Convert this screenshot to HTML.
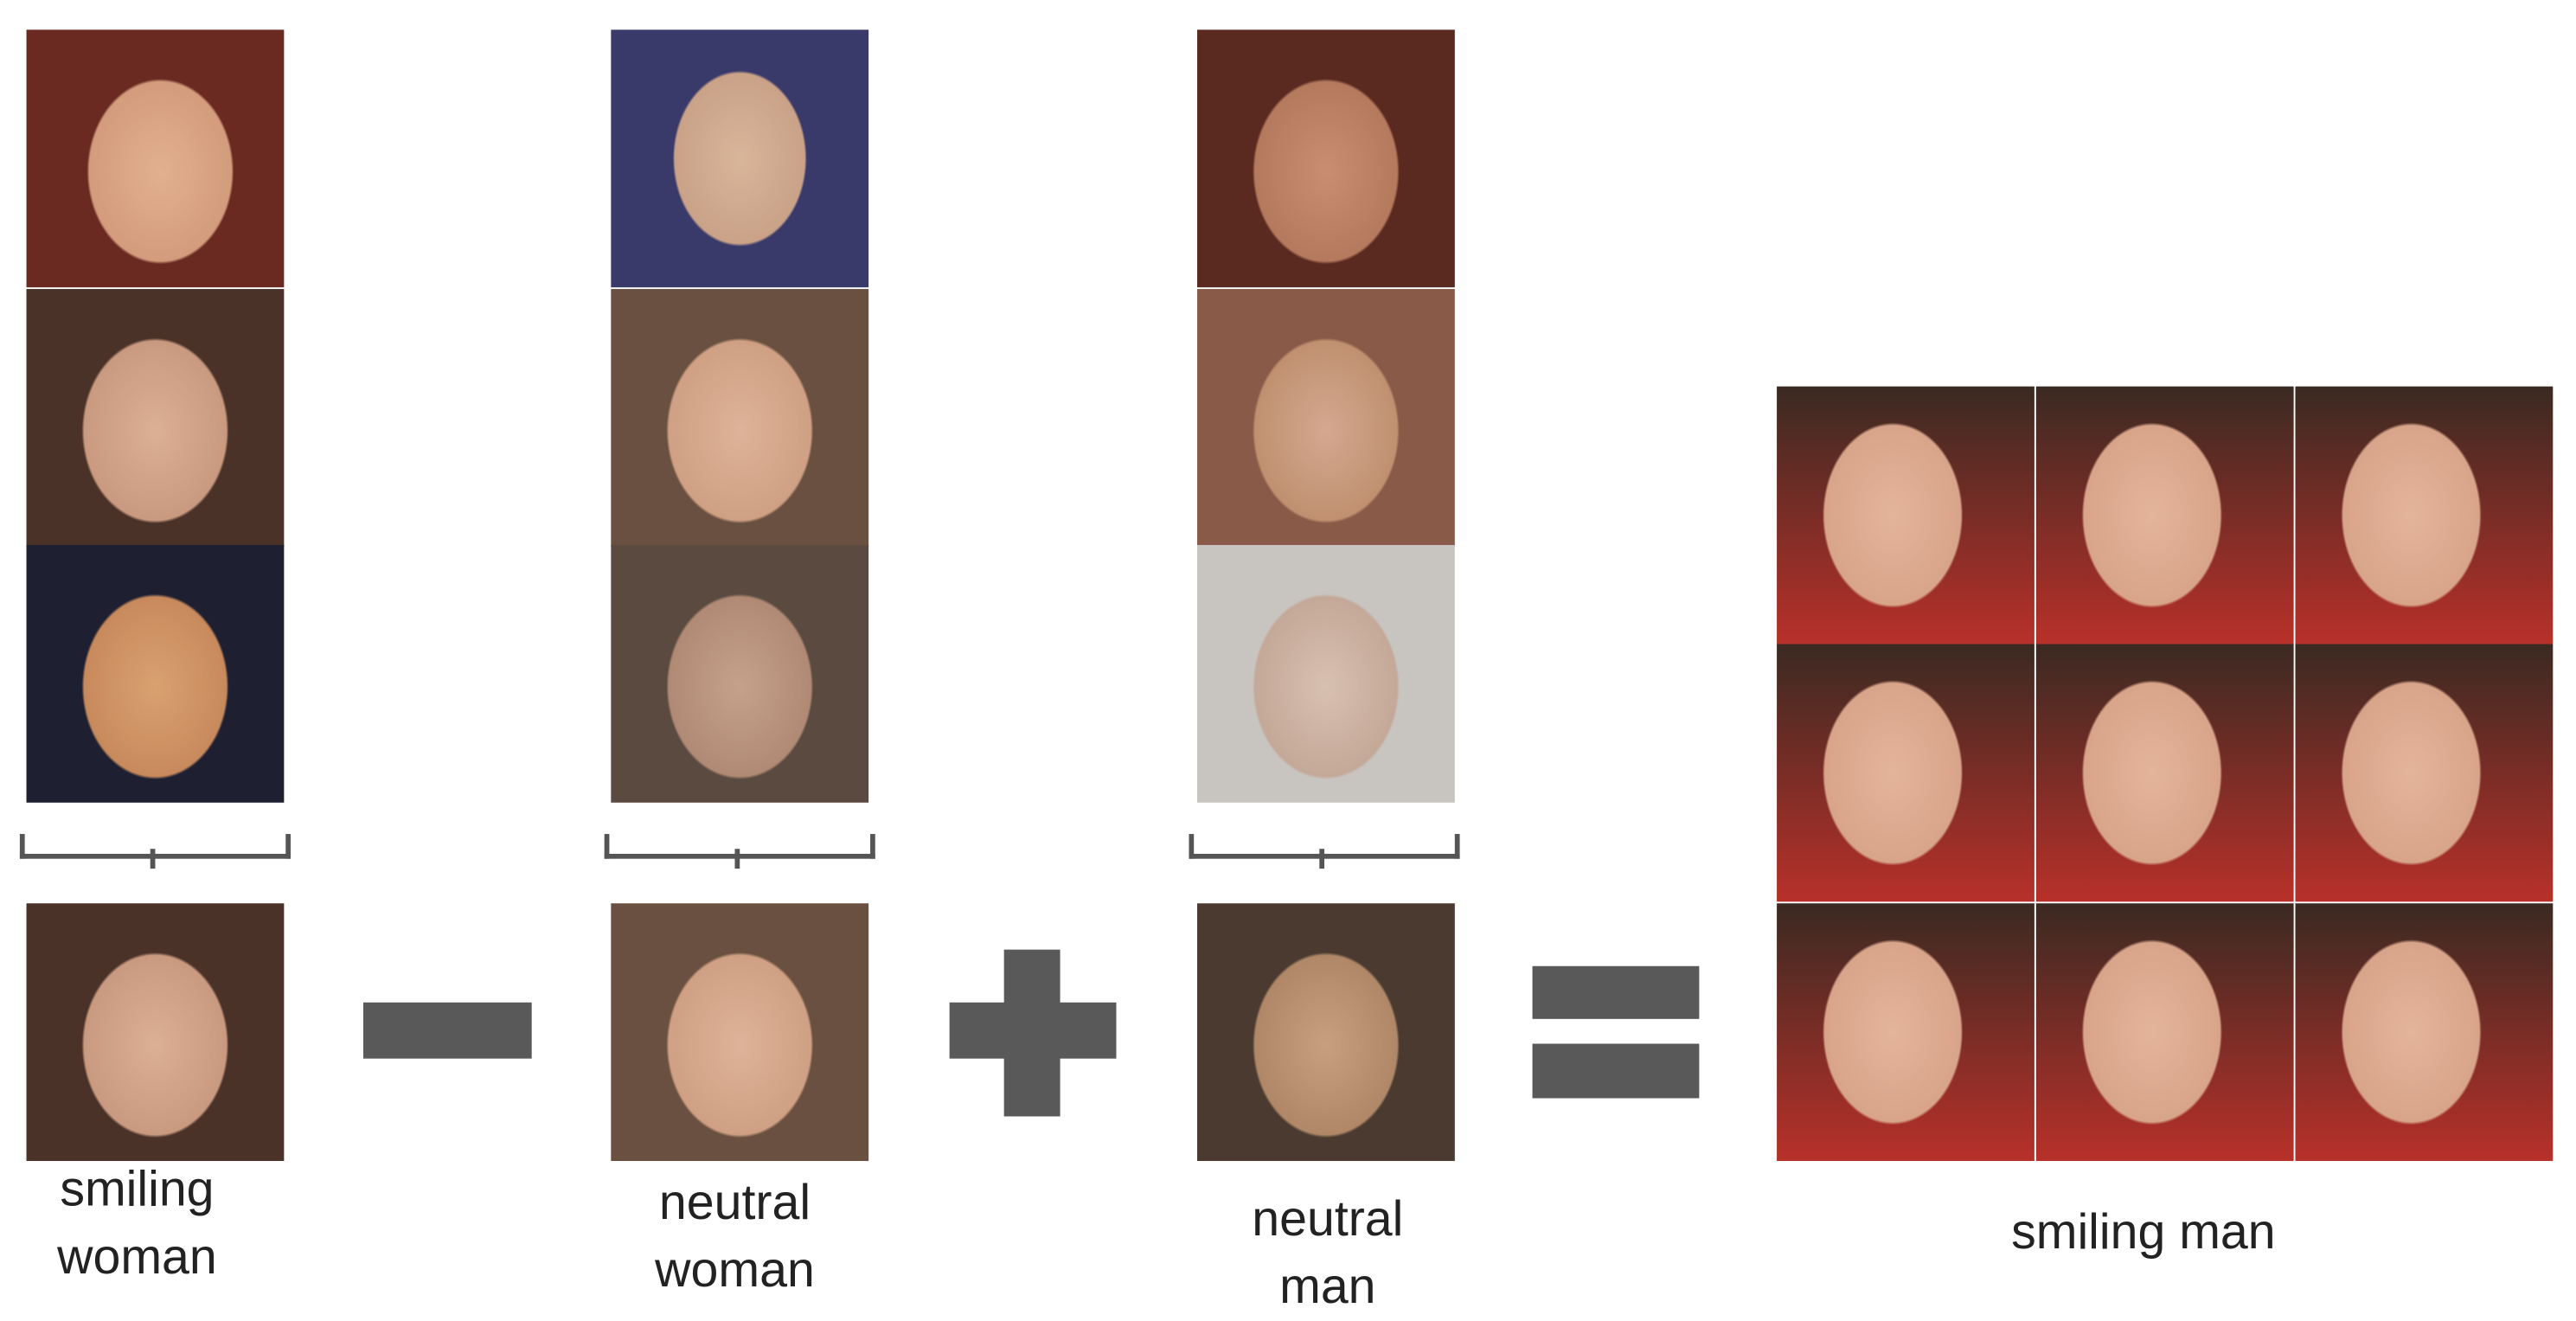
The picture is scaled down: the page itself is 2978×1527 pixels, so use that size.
<!DOCTYPE html>
<html><head><meta charset="utf-8"><style>
html,body{margin:0;padding:0;background:#fff;width:2978px;height:1524px;overflow:hidden}
#w{position:absolute;left:0;top:0;width:1560px;height:798px;transform:scale(1.909);transform-origin:0 0;font-family:"Liberation Sans",sans-serif;color:#222}
.f{position:absolute;width:156px;height:156px}
.a{background:radial-gradient(ellipse 46% 58% at 52% 55%,#e2b08e 0,#d39c7c 60%,rgba(0,0,0,0) 62%),#6a2a22}
.b{background:radial-gradient(ellipse 46% 58% at 50% 55%,#dbb095 0,#c99a80 60%,rgba(0,0,0,0) 62%),#4a3228}
.c{background:radial-gradient(ellipse 46% 58% at 50% 55%,#d9a070 0,#c88a5c 60%,rgba(0,0,0,0) 62%),#1e1f30}
.d{background:radial-gradient(ellipse 42% 55% at 50% 50%,#d9b59a 0,#c9a288 60%,rgba(0,0,0,0) 62%),#3a3a6a}
.e{background:radial-gradient(ellipse 46% 58% at 50% 55%,#ddb399 0,#cfa083 60%,rgba(0,0,0,0) 62%),#6a5040}
.g{background:radial-gradient(ellipse 46% 58% at 50% 55%,#c5a08a 0,#b08a74 60%,rgba(0,0,0,0) 62%),#5a4a40}
.h{background:radial-gradient(ellipse 46% 58% at 50% 55%,#c98e70 0,#b57a5e 60%,rgba(0,0,0,0) 62%),#5a2a20}
.i{background:radial-gradient(ellipse 46% 58% at 50% 55%,#d4a890 0,#c09070 60%,rgba(0,0,0,0) 62%),#8a5a48}
.j{background:radial-gradient(ellipse 46% 58% at 50% 55%,#d8c0b0 0,#c4a898 60%,rgba(0,0,0,0) 62%),#c8c4c0}
.k{background:radial-gradient(ellipse 46% 58% at 50% 55%,#c8a080 0,#b08868 60%,rgba(0,0,0,0) 62%),#4a3a30}
.m{background:radial-gradient(ellipse 44% 58% at 45% 50%,#e4b49a 0,#d8a48a 60%,rgba(0,0,0,0) 62%),linear-gradient(#3a2a22,#b8302a)}
.br{position:absolute;height:12px;border:3px solid #555;border-top:none;width:158px}
.br:after{content:"";position:absolute;left:76px;top:9px;width:3px;height:12px;background:#555}
.bar{position:absolute;background:#595959}
.t{position:absolute;font-size:30px;text-align:center;line-height:41px}
</style></head><body><div id="w">
<div class="f a" style="left:16px;top:18px"></div>
<div class="f b" style="left:16px;top:175px"></div>
<div class="f c" style="left:16px;top:330px"></div>
<div class="f b" style="left:16px;top:547px"></div>
<div class="f d" style="left:370px;top:18px"></div>
<div class="f e" style="left:370px;top:175px"></div>
<div class="f g" style="left:370px;top:330px"></div>
<div class="f e" style="left:370px;top:547px"></div>
<div class="f h" style="left:725px;top:18px"></div>
<div class="f i" style="left:725px;top:175px"></div>
<div class="f j" style="left:725px;top:330px"></div>
<div class="f k" style="left:725px;top:547px"></div>
<div class="br" style="left:12px;top:505px"></div>
<div class="br" style="left:366px;top:505px"></div>
<div class="br" style="left:720px;top:505px"></div>
<div class="bar" style="left:220px;top:607px;width:102px;height:34px"></div>
<div class="bar" style="left:575px;top:607px;width:101px;height:34px"></div>
<div class="bar" style="left:608px;top:575px;width:34px;height:101px"></div>
<div class="bar" style="left:928px;top:585px;width:101px;height:32px"></div>
<div class="bar" style="left:928px;top:632px;width:101px;height:33px"></div>
<div class="f m" style="left:1076px;top:234px"></div>
<div class="f m" style="left:1233px;top:234px"></div>
<div class="f m" style="left:1390px;top:234px"></div>
<div class="f m" style="left:1076px;top:390px"></div>
<div class="f m" style="left:1233px;top:390px"></div>
<div class="f m" style="left:1390px;top:390px"></div>
<div class="f m" style="left:1076px;top:547px"></div>
<div class="f m" style="left:1233px;top:547px"></div>
<div class="f m" style="left:1390px;top:547px"></div>
<div class="t" style="left:8px;top:700px;width:150px">smiling<br>woman</div>
<div class="t" style="left:370px;top:708px;width:150px">neutral<br>woman</div>
<div class="t" style="left:729px;top:718px;width:150px">neutral<br>man</div>
<div class="t" style="left:1198px;top:726px;width:200px">smiling man</div>
</div></body></html>
